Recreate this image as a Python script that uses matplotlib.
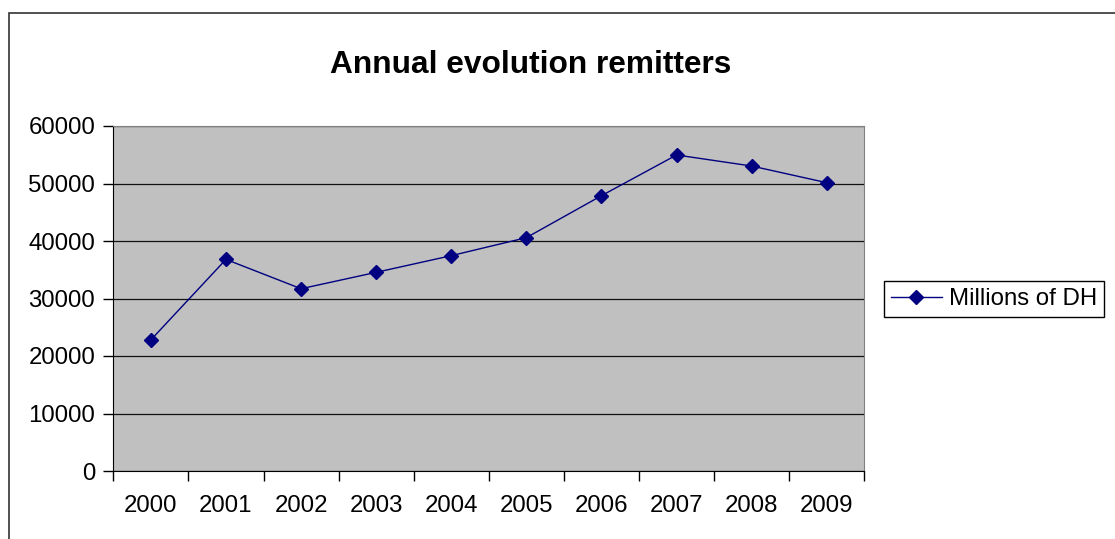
import matplotlib.pyplot as plt
import numpy as np
from matplotlib.patches import Rectangle

plt.rcParams['font.family'] = ['Liberation Sans', 'DejaVu Sans']

# Annual remittances, millions of DH
years = ['2000', '2001', '2002', '2003', '2004', '2005', '2006', '2007', '2008', '2009']
remit = [22800, 36800, 31700, 34550, 37450, 40580, 47880, 54960, 53040, 50140]
y_ticks = [0, 10000, 20000, 30000, 40000, 50000, 60000]

W, H = 1115, 539
fig = plt.figure(figsize=(W / 100, H / 100), dpi=100)
fig.patch.set_facecolor('white')

# outer chart border
fig.patches.append(Rectangle((9 / W, -0.01), 1.1, 1 - 13 / H + 0.01, transform=fig.transFigure,
                             fill=False, edgecolor='#333333', linewidth=1.2))

ax = fig.add_axes([113.3 / W, 1 - 471 / H, (864.3 - 113.3) / W, (471 - 126) / H])
ax.set_facecolor('#C0C0C0')

x = np.arange(len(years))
ax.plot(x, remit, color='#000080', linewidth=1.0, marker='D', markersize=7.5,
        markerfacecolor='#000080', markeredgecolor='#000080', label='Millions of DH', zorder=3)

ax.set_xlim(-0.5, len(years) - 0.5)
ax.set_ylim(0, 60000)
ax.set_yticks(y_ticks)
ax.set_yticklabels([str(v) for v in y_ticks], fontsize=17.3)
ax.yaxis.grid(True, color='#111111', linewidth=0.9)
ax.set_axisbelow(True)

ax.set_xticks(x)
ax.set_xticklabels(years, fontsize=17.3)
ax.set_xticks(np.arange(-0.5, len(years)), minor=True)
ax.tick_params(axis='x', which='major', length=0, pad=17)
ax.tick_params(axis='x', which='minor', length=7, width=1, direction='out')
ax.tick_params(axis='y', length=7, width=1, direction='out', pad=6)

for s in ['top', 'right']:
    ax.spines[s].set_color('#808080')
for s in ['left', 'bottom']:
    ax.spines[s].set_color('black')

fig.text(531 / W, 1 - 65 / H, 'Annual evolution remitters', ha='center', va='center',
         fontsize=22.8, fontweight='bold')

leg = fig.legend(loc='center left', bbox_to_anchor=(884 / W, 1 - 299 / H), fontsize=17.3,
                 frameon=True, fancybox=False, edgecolor='black', framealpha=1,
                 handlelength=2.1, borderpad=0.3, handletextpad=0.3, borderaxespad=0)
leg.get_frame().set_linewidth(1.0)

fig.savefig('out.png', dpi=100, facecolor=fig.get_facecolor())
